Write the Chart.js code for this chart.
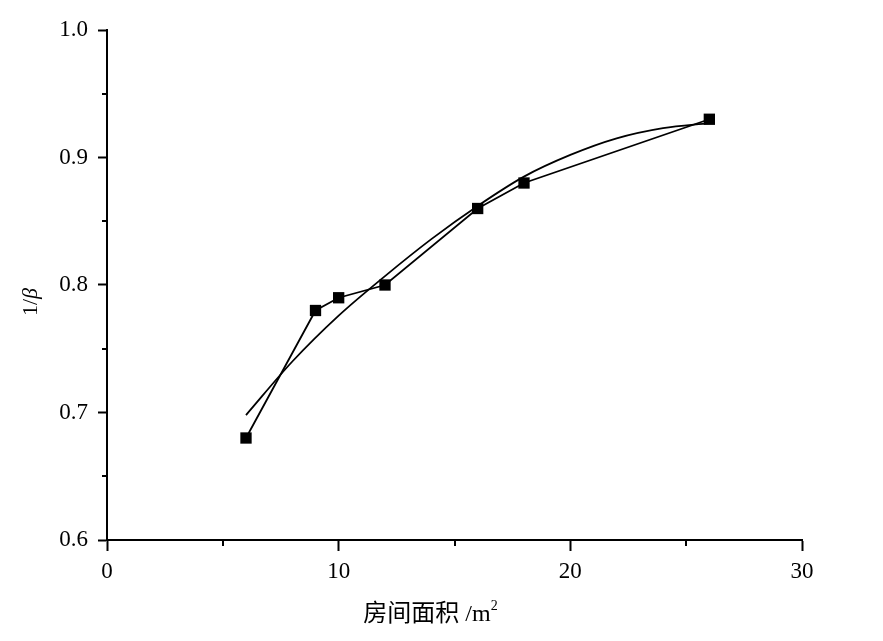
<!DOCTYPE html>
<html>
<head>
<meta charset="utf-8">
<script src="https://cdn.jsdelivr.net/npm/chart.js@4/dist/chart.umd.min.js"></script>
<style>
  html, body { margin: 0; padding: 0; background: #fff; }
  #wrap { width: 883px; height: 641px; }
</style>
</head>
<body>
<div id="wrap"><canvas id="c" width="883" height="641"></canvas></div>
<script>
// ---- data ----
const roomArea = [6, 9, 10, 12, 16, 18, 26];                 // m^2
const invBeta  = [0.68, 0.78, 0.79, 0.80, 0.86, 0.88, 0.93]; // 1/beta
const fitArea  = [6, 8, 10, 12, 14, 16, 18, 20, 22, 24, 26];
const fitValue = [0.698, 0.740, 0.776, 0.807, 0.836, 0.862, 0.885, 0.902, 0.915, 0.923, 0.927];
const xTickValues = [0, 10, 20, 30];
const yTickValues = [0.6, 0.7, 0.8, 0.9, 1.0];
const xMinorTicks = [5, 15, 25];
const yMinorTicks = [0.65, 0.75, 0.85, 0.95];
const xTitle = "房间面积 /m";
const xTitleSup = "2";
const yTitlePlain = "1/";
const yTitleItalic = "β";

const SERIF = '"Liberation Serif", "Times New Roman", serif';
const CJK = '"Liberation Serif", "Noto Sans CJK SC", serif';

const pointsData = roomArea.map((x, i) => ({ x: x, y: invBeta[i] }));
const pointsFit = fitArea.map((x, i) => ({ x: x, y: fitValue[i] }));

const extras = {
  id: 'extras',
  afterDraw(chart) {
    const ctx = chart.ctx;
    const xs = chart.scales.x, ys = chart.scales.y;
    const ca = chart.chartArea;
    ctx.save();
    ctx.strokeStyle = '#000';
    ctx.lineWidth = 2;
    ctx.beginPath();
    yMinorTicks.forEach(v => {
      const p = Math.round(ys.getPixelForValue(v));
      ctx.moveTo(ca.left - 5, p); ctx.lineTo(ca.left, p);
    });
    xMinorTicks.forEach(v => {
      const p = Math.round(xs.getPixelForValue(v));
      ctx.moveTo(p, ca.bottom); ctx.lineTo(p, ca.bottom + 6);
    });
    ctx.stroke();

    // x axis title
    ctx.fillStyle = '#000';
    ctx.textBaseline = 'alphabetic';
    ctx.font = '24px ' + CJK;
    const w1 = ctx.measureText(xTitle).width;
    ctx.font = '14px ' + SERIF;
    const w2 = ctx.measureText(xTitleSup).width;
    const cx = (ca.left + ca.right) / 2 - 24;
    let sx = cx - (w1 + w2) / 2;
    const by = 621;
    ctx.font = '24px ' + CJK;
    ctx.textAlign = 'left';
    ctx.fillText(xTitle, sx, by);
    ctx.font = '14px ' + SERIF;
    ctx.fillText(xTitleSup, sx + w1, by - 11);

    // y axis title
    ctx.translate(37, (ca.top + ca.bottom) / 2 + 17);
    ctx.rotate(-Math.PI / 2);
    ctx.font = '22px ' + SERIF;
    const a = ctx.measureText(yTitlePlain).width;
    ctx.font = 'italic 22px ' + SERIF;
    const b = ctx.measureText(yTitleItalic).width;
    let ty = -(a + b) / 2;
    ctx.font = '22px ' + SERIF;
    ctx.fillText(yTitlePlain, ty, 0);
    ctx.font = 'italic 22px ' + SERIF;
    ctx.fillText(yTitleItalic, ty + a, 0);
    ctx.restore();
  }
};

new Chart(document.getElementById('c'), {
  type: 'scatter',
  data: {
    datasets: [
      {
        label: 'fit',
        data: pointsFit,
        showLine: true,
        borderColor: '#000',
        borderWidth: 1.8,
        pointRadius: 0,
        cubicInterpolationMode: 'monotone',
        fill: false
      },
      {
        label: '1/β',
        data: pointsData,
        showLine: true,
        borderColor: '#000',
        borderWidth: 1.8,
        backgroundColor: '#000',
        pointStyle: 'rect',
        pointRadius: 8,
        pointBorderWidth: 0,
        pointBackgroundColor: '#000',
        tension: 0,
        fill: false
      }
    ]
  },
  options: {
    responsive: false,
    animation: false,
    events: [],
    layout: { padding: { left: 0, right: 81, top: 30, bottom: 0 } },
    plugins: { legend: { display: false }, tooltip: { enabled: false } },
    scales: {
      x: {
        type: 'linear',
        min: 0, max: 30,
        afterBuildTicks(scale) { scale.ticks = xTickValues.map(v => ({ value: v })); },
        afterFit(scale) { scale.height = 101; },
        ticks: {
          color: '#000',
          padding: 7,
          maxRotation: 0,
          font: { family: SERIF, size: 23 },
          callback: v => String(v)
        },
        grid: { drawOnChartArea: false, drawTicks: true, tickLength: 11, tickColor: '#000', tickWidth: 2 },
        border: { display: true, color: '#000', width: 2 }
      },
      y: {
        type: 'linear',
        min: 0.6, max: 1.0,
        afterBuildTicks(scale) { scale.ticks = yTickValues.map(v => ({ value: v })); },
        afterFit(scale) { scale.width = 107; },
        ticks: {
          color: '#000',
          padding: 10,
          font: { family: SERIF, size: 23 },
          callback: v => Number(v).toFixed(1)
        },
        grid: { drawOnChartArea: false, drawTicks: true, tickLength: 9, tickColor: '#000', tickWidth: 2 },
        border: { display: true, color: '#000', width: 2 }
      }
    }
  },
  plugins: [extras]
});
</script>
</body>
</html>
